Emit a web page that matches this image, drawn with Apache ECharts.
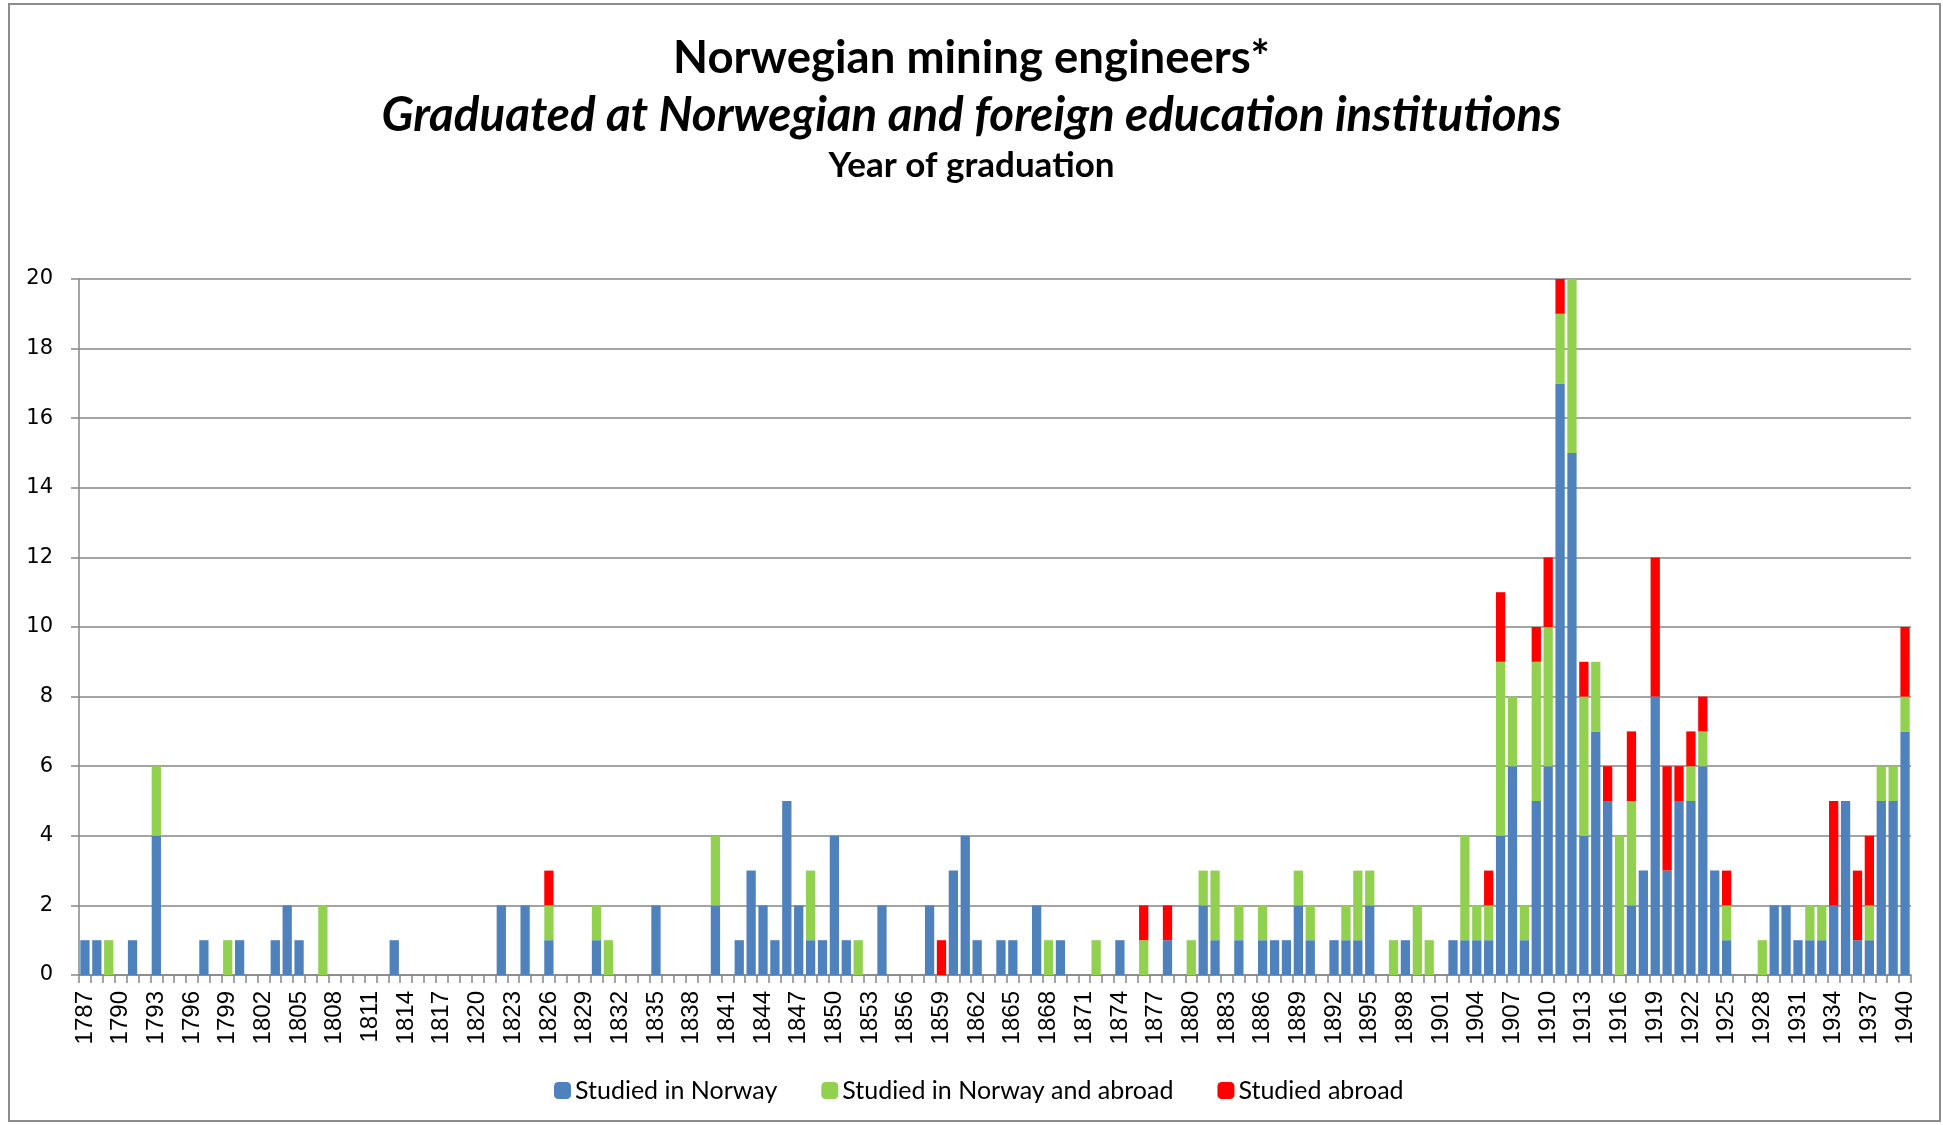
<!DOCTYPE html>
<html>
<head>
<meta charset="utf-8">
<title>Norwegian mining engineers</title>
<script src="https://cdn.jsdelivr.net/npm/echarts@6/dist/echarts.min.js"></script>
<style>
  html, body { margin: 0; padding: 0; background: #fff; }
  #chart { width: 1943px; height: 1125px; }
</style>
</head>
<body>
<div id="chart"></div>
<script>
// Categories: graduation years 1787..1940
const years = [];
for (let y = 1787; y <= 1940; y++) years.push(String(y));

// Studied in Norway
const studiedNorway = [
  1,1,0,                        // 1787-1789
  0,1,0,4,0,0,0,1,0,0,          // 1790s
  1,0,0,1,2,1,0,0,0,0,          // 1800s
  0,0,0,1,0,0,0,0,0,0,          // 1810s
  0,0,2,0,2,0,1,0,0,0,          // 1820s
  1,0,0,0,0,2,0,0,0,0,          // 1830s
  2,0,1,3,2,1,5,2,1,1,          // 1840s
  4,1,0,0,2,0,0,0,2,0,          // 1850s
  3,4,1,0,1,1,0,2,0,1,          // 1860s
  0,0,0,0,1,0,0,0,1,0,          // 1870s
  0,2,1,0,1,0,1,1,1,2,          // 1880s
  1,0,1,1,1,2,0,0,1,0,          // 1890s
  0,0,1,1,1,1,4,6,1,5,          // 1900s
  6,17,15,4,7,5,0,2,3,8,        // 1910s
  3,5,5,6,3,1,0,0,0,2,          // 1920s
  2,1,1,1,2,5,1,1,5,5,          // 1930s
  7                             // 1940
];

// Studied in Norway and abroad
const studiedBoth = [
  0,0,1,
  0,0,0,2,0,0,0,0,0,1,
  0,0,0,0,0,0,0,2,0,0,
  0,0,0,0,0,0,0,0,0,0,
  0,0,0,0,0,0,1,0,0,0,
  1,1,0,0,0,0,0,0,0,0,
  2,0,0,0,0,0,0,0,2,0,
  0,0,1,0,0,0,0,0,0,0,
  0,0,0,0,0,0,0,0,1,0,
  0,0,1,0,0,0,1,0,0,0,
  1,1,2,0,1,0,1,0,0,1,
  1,0,0,1,2,1,0,1,0,2,
  1,0,0,3,1,1,5,2,1,4,
  4,2,5,4,2,0,4,3,0,0,
  0,0,1,1,0,1,0,0,1,0,
  0,0,1,1,0,0,0,1,1,1,
  1
];

// Studied abroad
const studiedAbroad = [
  0,0,0,
  0,0,0,0,0,0,0,0,0,0,
  0,0,0,0,0,0,0,0,0,0,
  0,0,0,0,0,0,0,0,0,0,
  0,0,0,0,0,0,1,0,0,0,
  0,0,0,0,0,0,0,0,0,0,
  0,0,0,0,0,0,0,0,0,0,
  0,0,0,0,0,0,0,0,0,1,
  0,0,0,0,0,0,0,0,0,0,
  0,0,0,0,0,0,1,0,1,0,
  0,0,0,0,0,0,0,0,0,0,
  0,0,0,0,0,0,0,0,0,0,
  0,0,0,0,0,1,2,0,0,1,
  2,1,0,1,0,1,0,2,0,4,
  3,1,1,1,0,1,0,0,0,0,
  0,0,0,0,3,0,2,2,0,0,
  2
];

const seriesNames = ['Studied in Norway', 'Studied in Norway and abroad', 'Studied abroad'];
const seriesColors = ['#4F81BD', '#92D050', '#FF0000'];
const seriesData = [studiedNorway, studiedBoth, studiedAbroad];

const chart = echarts.init(document.getElementById('chart'), null, { renderer: 'canvas' });

const gridColor = '#868686';

chart.setOption({
  backgroundColor: '#ffffff',
  animation: false,
  title: [
    {
      text: 'Norwegian mining engineers*',
      left: 'center', top: 27,
      textStyle: { fontFamily: 'Lato', fontWeight: 'bold', fontSize: 45.5, lineHeight: 52, color: '#000' }
    },
    {
      text: 'Graduated at Norwegian and foreign education institutions',
      left: 'center', top: 84,
      textStyle: { fontFamily: 'Lato', fontWeight: 'bold', fontStyle: 'italic', fontSize: 47.5, lineHeight: 54, color: '#000' }
    },
    {
      text: 'Year of graduation',
      left: 'center', top: 141,
      textStyle: { fontFamily: 'Lato', fontWeight: 'bold', fontSize: 35, lineHeight: 40, color: '#000' }
    }
  ],
  legend: {
    data: seriesNames,
    left: 549,
    top: 1073,
    itemWidth: 17,
    itemHeight: 17,
    itemGap: 44,
    icon: 'roundRect',
    textStyle: { fontFamily: 'Lato', fontSize: 25, color: '#000', padding: [0, 0, 0, -1] }
  },
  grid: { left: 79, right: 32, top: 279, bottom: 150, containLabel: false },
  xAxis: {
    type: 'category',
    data: years,
    boundaryGap: true,
    axisLine: { show: true, lineStyle: { color: gridColor, width: 1.5 } },
    axisTick: { show: true, interval: 0, length: 8, lineStyle: { color: gridColor, width: 1.5 } },
    axisLabel: {
      interval: 2,
      rotate: 90,
      margin: 16,
      fontFamily: 'Liberation Sans',
      fontSize: 24,
      color: '#000'
    }
  },
  yAxis: {
    type: 'value',
    min: 0,
    max: 20,
    interval: 2,
    axisLine: { show: true, lineStyle: { color: gridColor, width: 1.5 } },
    axisTick: { show: true, length: 8, lineStyle: { color: gridColor, width: 1.5 } },
    axisLabel: { margin: 26, fontFamily: 'DejaVu Sans', fontSize: 21, color: '#000' },
    splitLine: { show: true, lineStyle: { color: gridColor, width: 1.5 } }
  },
  series: seriesNames.map((name, i) => ({
    name: name,
    type: 'bar',
    stack: 'total',
    data: seriesData[i],
    barCategoryGap: '22%',
    itemStyle: { color: seriesColors[i] }
  })),
  graphic: [
    {
      type: 'rect',
      shape: { x: 9, y: 4, width: 1931, height: 1117 },
      style: { fill: 'none', stroke: '#8c8c8c', lineWidth: 2 },
      silent: true,
      z: -1
    }
  ]
});
</script>
</body>
</html>
